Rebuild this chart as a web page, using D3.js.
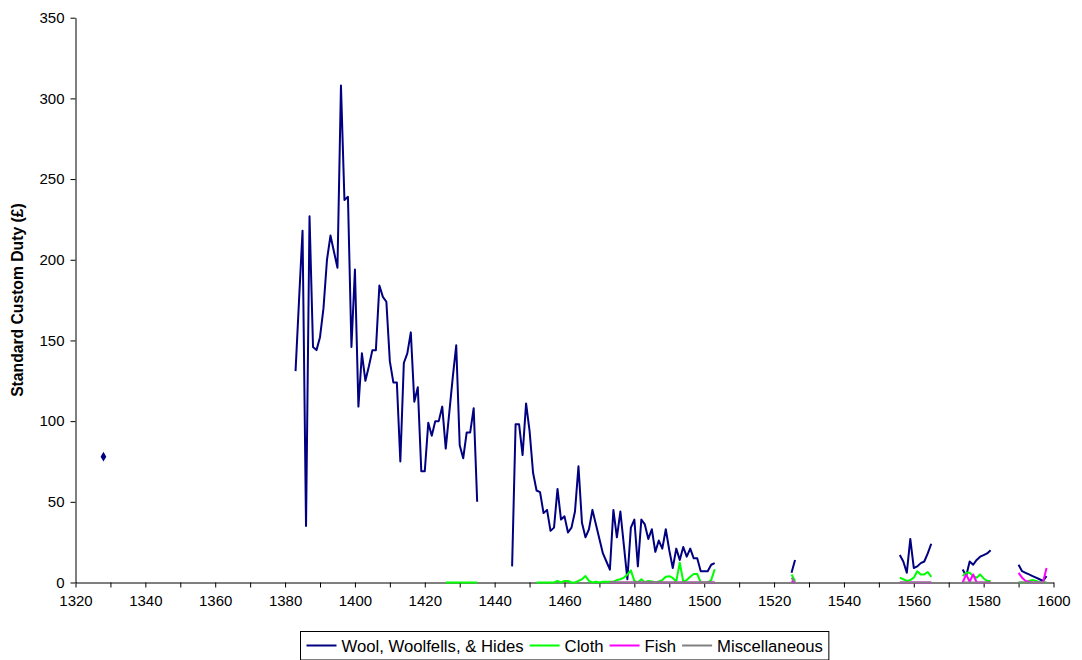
<!DOCTYPE html>
<html>
<head>
<meta charset="utf-8">
<script src="https://cdn.jsdelivr.net/npm/d3@7"></script>
<style>
  html, body { margin: 0; padding: 0; background: #fff; }
  svg { display: block; }
  text { font-family: "Liberation Sans", Arial, sans-serif; fill: #000; }
</style>
</head>
<body>
<svg id="chart" width="1082" height="660"></svg>
<script>
// ---------------- DATA ----------------
const xTicks = [1320, 1330, 1340, 1350, 1360, 1370, 1380, 1390, 1400, 1410, 1420, 1430, 1440, 1450, 1460, 1470, 1480, 1490, 1500, 1510, 1520, 1530, 1540, 1550, 1560, 1570, 1580, 1590, 1600];
const xTickLabels = ["1320", "", "1340", "", "1360", "", "1380", "", "1400", "", "1420", "", "1440", "", "1460", "", "1480", "", "1500", "", "1520", "", "1540", "", "1560", "", "1580", "", "1600"];
const yTicks = [0, 50, 100, 150, 200, 250, 300, 350];

const seriesNames = ["Wool, Woolfells, & Hides", "Cloth", "Fish", "Miscellaneous"];
const seriesColors = ["#000080", "#00ff00", "#ff00ff", "#808080"];

// Each series: start years of its runs, and the yearly values of each run
const woolStarts = [1328, 1383, 1445, 1525, 1556, 1574, 1590];
const woolValues = [
  [78],
  [131, 175, 218, 35, 227, 146, 144, 152, 170, 200, 215, 205, 195, 308, 237, 239, 146, 194, 109, 142,
   125, 134, 144, 144, 184, 177, 174, 137, 124, 124, 75, 136, 142, 155, 112, 121, 69, 69, 99, 91,
   100, 100, 109, 83, 105, 127, 147, 85, 77, 93, 93, 108, 50],
  [10, 98, 98, 79, 111, 94, 68, 57, 56, 43, 45, 32, 34, 58, 39, 41, 31, 34, 44, 72,
   37, 28, 33, 45, 36, 27, 18, 13, 8, 45, 28, 44, 23, 2, 34, 39, 10, 39, 36, 27,
   33, 19, 26, 21, 33, 20, 9, 21, 14, 22, 16, 21, 15, 15, 7, 7, 7, 11, 12],
  [6, 14],
  [17, 13, 6, 27, 9, 10, 12, 13, 18, 24],
  [8, 4, 13, 11, 14, 16, 17, 18, 20],
  [11, 7, 6, 5, 4, 3, 2, 1, 4]
];

const clothStarts = [1426, 1452, 1525, 1556, 1574, 1590];
const clothValues = [
  [0, 0, 0, 0, 0, 0, 0, 0, 0, 0],
  [0, 0, 0, 0, 0, 0, 1, 0, 1, 1, 0, 0, 1, 2, 4, 1, 0, 0.5, 0, 0.5,
   0.5, 0.5, 0.5, 1.5, 2, 3, 5, 7.5, 1, 0, 2, 0, 1, 0.6, 0, 0.6, 1.5, 3.6, 3.9, 2.8,
   0.6, 12.3, 0.6, 1.5, 3.6, 5.3, 5.3, 0, 0, 0, 1.5, 8.2],
  [5, 1],
  [3, 2, 1, 1.5, 3, 7, 5, 5, 6.5, 3.5],
  [4, 6, 6, 4, 3, 5, 2.5, 1, 1],
  [0, 0, 0, 1, 1.5, 1, 0, 0, 0]
];

const fishStarts = [1473, 1525, 1556, 1574, 1590];
const fishValues = [
  [0, 0, 0, 0, 0, 0, 0, 0, 0, 0, 0, 0, 0, 0, 0, 0, 0, 0, 0, 0, 0, 0, 0, 0, 0, 0, 0, 0, 0, 0, 0],
  [1, 0],
  [0, 0, 0, 0, 0, 0, 0, 0, 0, 0],
  [0, 5, 0.5, 5, 0, 0, 0, 0, 0],
  [6, 3, 1, 0.5, 0, 0, 0, 0, 9]
];

const miscStarts = [1473, 1525, 1556, 1574, 1590];
const miscValues = [
  [0, 0, 0, 0, 0, 0, 0, 0, 0, 0, 0, 0, 0, 0, 0, 0, 0, 0, 0, 0, 0, 0, 0, 0, 0, 0, 0, 0, 0, 0, 0],
  [3, 0],
  [0, 0, 0, 0, 0, 0, 0, 0, 0, 0],
  [0, 0, 0, 0, 0, 0, 0, 0, 0],
  [0, 0, 0, 0, 0, 0, 0, 0, 0]
];

// ---------------- CHART ----------------
const svg = d3.select("#chart");
const x = d3.scaleLinear().domain([1320, 1600]).range([75.5, 1053.5]);
const y = d3.scaleLinear().domain([0, 350]).range([582.5, 17.7]);

// axes
const xAxis = d3.axisBottom(x)
  .tickValues(xTicks)
  .tickFormat((d, i) => xTickLabels[i])
  .tickSize(5).tickSizeOuter(0).tickPadding(8);
const gx = svg.append("g").attr("transform", `translate(0,${y(0)})`).call(xAxis);
gx.selectAll("text").style("font-size", "15px");

const yAxis = d3.axisLeft(y)
  .tickValues(yTicks)
  .tickSize(5).tickSizeOuter(0).tickPadding(6);
const gy = svg.append("g").attr("transform", `translate(${x(1320)},0)`).call(yAxis);
gy.selectAll("text").style("font-size", "15px");
svg.selectAll(".domain, .tick line").attr("stroke", "#000").attr("stroke-width", 1);

// y title
svg.append("text")
  .attr("transform", `translate(23,${(y(0) + y(350)) / 2}) rotate(-90)`)
  .attr("text-anchor", "middle")
  .style("font-size", "15.7px")
  .style("font-weight", "bold")
  .text("Standard Custom Duty (£)");

// series
const allSeries = [
  { starts: woolStarts, values: woolValues },
  { starts: clothStarts, values: clothValues },
  { starts: fishStarts, values: fishValues },
  { starts: miscStarts, values: miscValues }
];

const line = d3.line().x(d => x(d[0])).y(d => y(d[1]));
const gLines = svg.append("g");

allSeries.forEach((s, si) => {
  s.values.forEach((run, ri) => {
    const pts = run.map((v, k) => [s.starts[ri] + k, v]);
    if (pts.length === 1) {
      gLines.append("path")
        .attr("d", d3.symbol().type(d3.symbolDiamond).size(28)())
        .attr("transform", `translate(${x(pts[0][0])},${y(pts[0][1])})`)
        .attr("fill", seriesColors[si]);
    } else {
      gLines.append("path")
        .attr("d", line(pts))
        .attr("fill", "none")
        .attr("stroke", seriesColors[si])
        .attr("stroke-width", 2)
        .attr("stroke-linejoin", "round");
    }
  });
});

// legend
const lg = svg.append("g");
const lgRect = lg.append("rect").attr("fill", "#fff").attr("stroke", "#000").attr("stroke-width", 1);
let cx = 6;
const lyMid = 645.5;
seriesNames.forEach((name, i) => {
  lg.append("line")
    .attr("x1", cx).attr("x2", cx + 30)
    .attr("y1", lyMid).attr("y2", lyMid)
    .attr("stroke", seriesColors[i]).attr("stroke-width", 2);
  cx += 35;
  const t = lg.append("text")
    .attr("x", cx).attr("y", lyMid + 6)
    .style("font-size", "16.7px")
    .text(name);
  cx += t.node().getComputedTextLength() + 6;
});
const lgW = cx;
const lgX = Math.round((x(1320) + x(1600)) / 2 - lgW / 2) + 0.5;
lg.attr("transform", `translate(${lgX},0)`);
lgRect.attr("x", 0).attr("y", 631.5).attr("width", lgW).attr("height", 28.5);
</script>
</body>
</html>
